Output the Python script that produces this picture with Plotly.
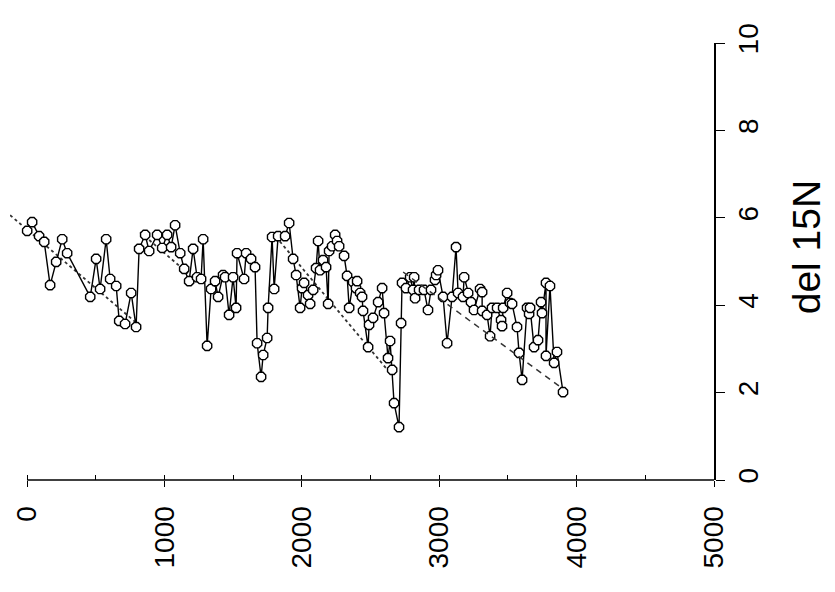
import plotly.graph_objects as go

# Series
depth = [0, 36, 87, 124, 167, 211, 255, 291, 459, 502, 531, 575, 604, 648, 670, 713, 757, 793,
         815, 859, 888, 946, 983, 1019, 1048, 1077, 1114, 1143, 1179, 1208, 1237, 1266, 1281, 1310,
         1339, 1368, 1390, 1426, 1441, 1470, 1499, 1521, 1528, 1579, 1594, 1630, 1659, 1674, 1703,
         1718, 1747, 1754, 1783, 1798, 1827, 1878, 1907, 1936, 1958, 1987, 2001, 2016, 2045, 2060,
         2082, 2103, 2118, 2132, 2154, 2176, 2191, 2198, 2220, 2242, 2256, 2271, 2307, 2329, 2344,
         2373, 2394, 2402, 2424, 2438, 2445, 2482, 2489, 2518, 2555, 2584, 2598, 2627, 2642, 2657,
         2671, 2707, 2722, 2729, 2758, 2788, 2809, 2817, 2824, 2853, 2889, 2918, 2940, 2969, 2977,
         2991, 3028, 3057, 3093, 3122, 3137, 3173, 3181, 3210, 3231, 3253, 3297, 3312, 3312, 3348,
         3370, 3384, 3421, 3450, 3457, 3465, 3494, 3515, 3530, 3566, 3581, 3603, 3639, 3654, 3661,
         3690, 3719, 3741, 3748, 3777, 3777, 3806, 3836, 3857, 3901]
d15n = [5.70, 5.90, 5.58, 5.45, 4.46, 4.99, 5.51, 5.19, 4.19, 5.06, 4.37, 5.51, 4.60, 4.44, 3.64,
        3.57, 4.28, 3.50, 5.29, 5.61, 5.24, 5.61, 5.31, 5.61, 5.33, 5.83, 5.19, 4.83, 4.55, 5.29,
        4.64, 4.60, 5.51, 3.07, 4.37, 4.55, 4.19, 4.69, 4.64, 3.78, 4.64, 3.94, 5.19, 4.60, 5.19,
        5.06, 4.87, 3.13, 2.36, 2.86, 3.25, 3.94, 5.56, 4.37, 5.58, 5.58, 5.88, 5.06, 4.69, 3.94,
        4.39, 4.51, 4.23, 4.03, 4.35, 4.85, 5.47, 4.80, 5.03, 4.87, 4.03, 5.24, 5.35, 5.61, 5.47,
        5.35, 5.13, 4.67, 3.94, 4.53, 4.39, 4.55, 4.28, 4.19, 3.87, 3.04, 3.55, 3.71, 4.07, 4.39,
        3.82, 2.79, 3.18, 2.52, 1.76, 1.21, 3.59, 4.51, 4.39, 4.64, 4.35, 4.64, 4.16, 4.35, 4.35,
        3.89, 4.35, 4.58, 4.69, 4.80, 4.19, 3.13, 4.19, 5.33, 4.28, 4.19, 4.64, 4.28, 4.07, 3.89,
        4.37, 4.30, 3.87, 3.78, 3.29, 3.94, 3.94, 3.66, 3.52, 3.94, 4.28, 4.05, 4.03, 3.50, 2.91,
        2.29, 3.94, 3.80, 3.94, 3.04, 3.20, 4.07, 3.82, 4.51, 2.84, 4.44, 2.68, 2.93, 2.01]

# Trend segments
trend1_x = [-124, 786]
trend1_y = [6.06, 3.62]
trend2_x = [822, 1186]
trend2_y = [5.67, 4.69]
trend3_x = [1783, 2642]
trend3_y = [5.67, 2.45]
trend4_x = [2737, 3894]
trend4_y = [4.76, 2.10]

x_ticks = [0, 1000, 2000, 3000, 4000, 5000]
y_ticks = [0, 2, 4, 6, 8, 10]
y_title = "del 15N"

x_min, x_max = -125, 5000
y_min, y_max = 0, 10

FONT = "Liberation Sans, Arial, Helvetica, sans-serif"

fig = go.Figure()
for tx, ty in [(trend1_x, trend1_y), (trend2_x, trend2_y), (trend3_x, trend3_y)]:
    fig.add_trace(go.Scatter(x=tx, y=ty, mode="lines",
                             line=dict(color="#333333", width=1.8, dash="dot"),
                             hoverinfo="skip", showlegend=False))
fig.add_trace(go.Scatter(x=trend4_x, y=trend4_y, mode="lines", xaxis="x2",
                         line=dict(color="#333333", width=1.5, dash="6px,5px"),
                         hoverinfo="skip", showlegend=False))
fig.add_trace(go.Scatter(x=depth, y=d15n, mode="lines+markers",
                         line=dict(color="black", width=1.4),
                         marker=dict(symbol="octagon", size=10, color="white",
                                     line=dict(color="black", width=1.4)),
                         showlegend=False))

fig.update_layout(
    width=835, height=592,
    margin=dict(l=2, r=129, t=35, b=120, autoexpand=False),
    paper_bgcolor="white", plot_bgcolor="white",
    font=dict(family=FONT, color="black"),
    xaxis=dict(range=[x_min, x_max], tickvals=x_ticks, ticktext=[str(v) for v in x_ticks],
               tickangle=-90, tickfont=dict(size=28), ticks="outside", ticklen=6,
               tickwidth=1.3, tickcolor="black", showline=False, showgrid=False,
               zeroline=False, ticklabelstandoff=8,
               minor=dict(ticks="inside", dtick=500, tick0=0, ticklen=5, tickwidth=1.1,
                          tickcolor="black", showgrid=False)),
    xaxis2=dict(range=[x_min, x_max], overlaying="x", anchor="y", side="bottom",
                tickvals=x_ticks, ticks="inside", ticklen=5, tickwidth=1.3,
                tickcolor="black", showticklabels=False, showline=False, showgrid=False,
                zeroline=False),
    yaxis=dict(range=[y_min, y_max], tickvals=y_ticks, side="right", tickangle=-90,
               tickfont=dict(size=28), ticks="outside", ticklen=9, tickwidth=1.3,
               tickcolor="black", showline=True, linecolor="black", linewidth=1.5,
               showgrid=False, zeroline=False),
    shapes=[dict(type="line", xref="paper", yref="paper",
                 x0=(0 - x_min) / (x_max - x_min), x1=1, y0=0, y1=0,
                 line=dict(color="black", width=1.5))],
    annotations=[dict(text=y_title, xref="paper", yref="paper", x=1.131, y=0.533,
                      textangle=-90, showarrow=False, font=dict(size=39, family=FONT),
                      xanchor="center", yanchor="middle")],
)

fig.write_html("out.html")
